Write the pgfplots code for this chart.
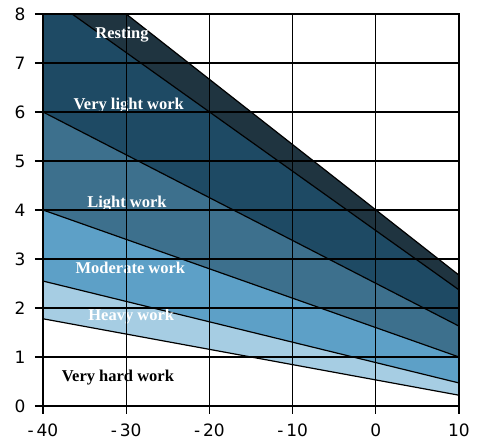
\documentclass[border=0pt]{standalone}
\usepackage{fontspec}
\setmainfont{Liberation Serif}
\newfontfamily\tickfont{DejaVu Sans}
\usepackage{pgfplots}
\pgfplotsset{compat=1.18}

\definecolor{rest}{RGB}{31,52,64}
\definecolor{vlight}{RGB}{30,74,100}
\definecolor{light}{RGB}{61,112,141}
\definecolor{moder}{RGB}{93,160,199}
\definecolor{heavy}{RGB}{166,205,227}

\begin{document}
\begin{tikzpicture}
\useasboundingbox (-43pt,-37pt) rectangle (442pt,406pt);
\begin{axis}[
    scale only axis,
    width=416pt, height=392pt,
    xmin=-40, xmax=10, ymin=0, ymax=8,
    xtick={-40,-30,...,10},
    xticklabels={-\,40,-\,30,-\,20,-\,10,0,10},
    ytick={0,1,...,8},
    grid=major,
    major grid style={black, line width=1.3pt},
    axis line style={black, line width=1.3pt},
    tick style={black, line width=1.3pt},
    tick align=outside,
    major tick length=8pt,
    xtick pos=bottom, ytick pos=left,
    axis on top,
    ticklabel style={font=\tickfont\fontsize{17}{17}\selectfont},
    xticklabel style={yshift=-6pt},
    yticklabel style={xshift=-6pt},
    /pgf/number format/assume math mode=true,
  ]
  % bands
  \addplot[draw=none, fill=rest] coordinates {(-36.5,8) (-30,8) (10,2.67) (10,2.37)} -- cycle;
  \addplot[draw=none, fill=vlight] coordinates {(-40,8) (-36.5,8) (10,2.37) (10,1.63) (-40,6)} -- cycle;
  \addplot[draw=none, fill=light] coordinates {(-40,6) (10,1.63) (10,1.0) (-40,4)} -- cycle;
  \addplot[draw=none, fill=moder] coordinates {(-40,4) (10,1.0) (10,0.47) (-40,2.55)} -- cycle;
  \addplot[draw=none, fill=heavy] coordinates {(-40,2.55) (10,0.47) (10,0.22) (-40,1.78)} -- cycle;
  % boundaries
  \addplot[black, line width=1.2pt] coordinates {(-30,8) (10,2.67)};
  \addplot[black, line width=1.2pt] coordinates {(-36.5,8) (10,2.37)};
  \addplot[black, line width=1.2pt] coordinates {(-40,6) (10,1.63)};
  \addplot[black, line width=1.2pt] coordinates {(-40,4) (10,1.0)};
  \addplot[black, line width=1.2pt] coordinates {(-40,2.55) (10,0.47)};
  \addplot[black, line width=1.2pt] coordinates {(-40,1.78) (10,0.22)};
  % labels
  \begin{scope}[every node/.style={font=\bfseries\fontsize{16.5}{16.5}\selectfont}]
  \node[white] at (axis cs:-30.5,7.57) {Resting};
  \node[white] at (axis cs:-29.7,6.14) {Very light work};
  \node[white] at (axis cs:-29.9,4.14) {Light work};
  \node[white] at (axis cs:-29.5,2.82) {Moderate work};
  \node[white] at (axis cs:-29.4,1.82) {Heavy work};
  \node[black] at (axis cs:-31,0.59) {Very hard work};
  \end{scope}
\end{axis}
\end{tikzpicture}
\end{document}
